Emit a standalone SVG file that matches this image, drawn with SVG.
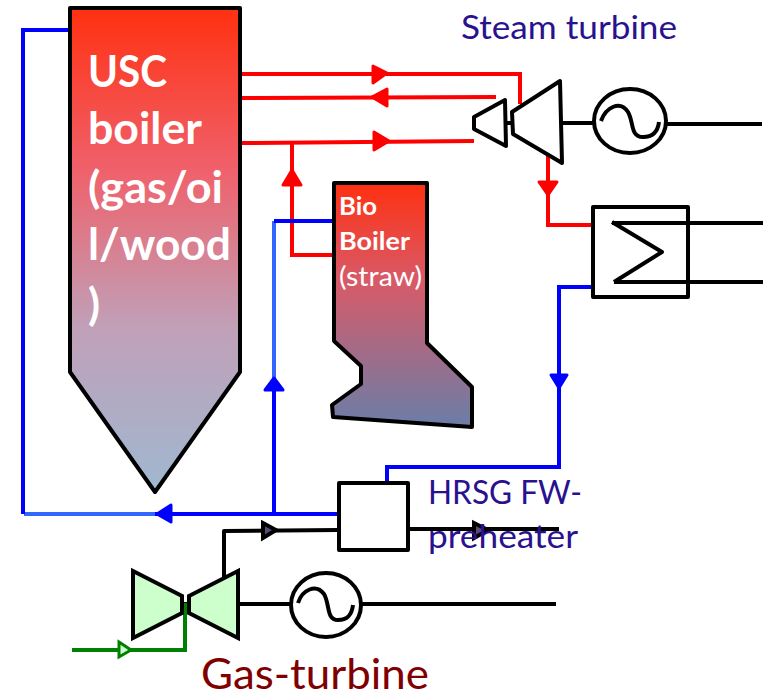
<svg xmlns="http://www.w3.org/2000/svg" width="770" height="694" viewBox="0 0 770 694">
<style>
.k{fill:none;stroke:#000;stroke-width:4;stroke-linejoin:round}
.kw{fill:#fff;stroke:#000;stroke-width:4;stroke-linejoin:round}
.g{fill:#ccffcc;stroke:#000;stroke-width:4;stroke-linejoin:miter}
.r{fill:none;stroke:#ff0000;stroke-width:4}
.b{fill:none;stroke:#0000ff;stroke-width:4}
.lb{fill:none;stroke:#3366ff;stroke-width:4}
.gr{fill:none;stroke:#008000;stroke-width:4}
.ra{fill:#ff0000;stroke:#ff0000;stroke-width:3;stroke-linejoin:round}
.ba{fill:#0000ff;stroke:#0000ff;stroke-width:3;stroke-linejoin:round}
.ka{fill:#5a4a7a;stroke:#000;stroke-width:4;stroke-linejoin:miter}
text{font-family:"Lato","Liberation Sans",sans-serif}
.w{fill:#fff;font-weight:700}
.n{fill:#2a1190;font-size:33px}
</style>
<defs>
<linearGradient id="g1" x1="0" y1="0" x2="0" y2="1"><stop offset="0" stop-color="#ff3010"/><stop offset="0.33" stop-color="#f0606a"/><stop offset="0.66" stop-color="#c0a0b8"/><stop offset="1" stop-color="#9fb8d0"/></linearGradient>
<linearGradient id="g2" x1="0" y1="0" x2="0" y2="1"><stop offset="0" stop-color="#ff3010"/><stop offset="0.4" stop-color="#d85a68"/><stop offset="1" stop-color="#6a7ea8"/></linearGradient>
</defs>
<g id="connectors">
<path class="r" d="M242 74H520V104"/>
<path class="r" d="M242 98L496 97"/>
<path class="r" d="M242 143L474 141"/>
<path class="r" d="M292 143V255H335"/>
<path class="r" d="M548 155V225H593"/>
<polygon class="ra" points="373,66 387,73 373,83"/>
<polygon class="ra" points="387,89 372,97 387,106"/>
<polygon class="ra" points="374,132 389,141 374,150"/>
<polygon class="ra" points="283,185 301,185 292,170"/>
<polygon class="ra" points="539,182 557,182 548,195"/>
<path class="b" d="M593 287H559V467H387V483"/>
<polygon class="ba" points="551,375 567,375 559,388"/>
<path class="b" d="M339 514H155"/>
<path class="lb" d="M155 514H24"/>
<path class="b" d="M23 514V30H70"/>
<path class="b" d="M274 514V380"/>
<path class="lb" d="M274 380V221"/>
<path class="b" d="M274 221H335"/>
<polygon class="ba" points="157,514 171,505 171,522"/>
<polygon class="ba" points="265,390 283,390 274,378"/>
<path class="k" d="M408 529H559"/>
<polygon class="ka" points="474,523 488,530 474,538"/>
<path class="k" d="M224 577V531L338 530"/>
<polygon class="ka" points="263,523 276,530 263,538"/>
<path class="k" d="M505 123H512M562 123H593M666 124H762"/>
<path class="k" d="M612 223H763M614 282H763"/>
<path class="k" d="M238 604H292M360 604H556"/>
<path class="k" d="M182 604H189"/>
<path class="gr" d="M72 650H185V603"/>
<polygon points="119,642 131,650 119,657" style="fill:#ccffcc;stroke:#008000;stroke-width:3"/>
</g>
<g id="usc-boiler">
<polygon points="70,8 240,8 240,372 155,492 70,372" fill="url(#g1)" stroke="#000" stroke-width="4" stroke-linejoin="round"/>
<g class="w" font-size="44">
<text x="88" y="87" textLength="79" lengthAdjust="spacingAndGlyphs">USC</text>
<text x="88" y="144" textLength="114" lengthAdjust="spacingAndGlyphs">boiler</text>
<text x="88" y="203" textLength="135" lengthAdjust="spacingAndGlyphs">(gas/oi</text>
<text x="88" y="260" textLength="143" lengthAdjust="spacingAndGlyphs">l/wood</text>
<text x="88" y="320">)</text>
</g>
</g>
<g id="bio-boiler">
<polygon points="334,183 427,183 427,343 472,387 472,427 333,417 332,405 361,384 361,366 334,341" fill="url(#g2)" stroke="#000" stroke-width="4" stroke-linejoin="round"/>
<text class="w" x="339" y="215" font-size="25" textLength="38" lengthAdjust="spacingAndGlyphs">Bio</text>
<text class="w" x="339" y="250" font-size="25" textLength="71" lengthAdjust="spacingAndGlyphs">Boiler</text>
<text x="339" y="286" font-size="26" fill="#fff" textLength="83" lengthAdjust="spacingAndGlyphs">(straw)</text>
</g>
<g id="steam-turbine">
<polygon class="kw" points="474,117 505,100 506,146 474,129"/>
<polygon class="kw" points="512,112 560,81 562,163 513,134"/>
<text x="461" y="39" font-size="33" fill="#2a1190" textLength="216" lengthAdjust="spacingAndGlyphs">Steam turbine</text>
</g>
<g id="generator-1">
<ellipse class="k" cx="630" cy="121" rx="36" ry="32"/>
<path class="k" d="M601 121C606 107 620 100 628 112C634 122 630 137 643 137C654 137 658 130 659 122"/>
</g>
<g id="condenser">
<rect class="k" x="593" y="207" width="95" height="90"/>
<path class="k" d="M612 222L662 252L614 282"/>
</g>
<g id="hrsg">
<rect class="kw" x="339" y="483" width="69" height="67"/>
<text class="n" x="428" y="504" textLength="154" lengthAdjust="spacingAndGlyphs">HRSG FW-</text>
<text class="n" x="428" y="548" textLength="150" lengthAdjust="spacingAndGlyphs">preheater</text>
</g>
<g id="gas-turbine">
<polygon class="g" points="133,571 182,596 182,613 133,638"/>
<polygon class="g" points="189,596 238,571 238,638 189,613"/>
<text x="201" y="689" font-size="43" fill="#7f0000" textLength="228" lengthAdjust="spacingAndGlyphs">Gas-turbine</text>
</g>
<g id="generator-2">
<ellipse class="k" cx="326" cy="605" rx="35" ry="32"/>
<path class="k" d="M298 603C302 590 316 583 324 594C330 604 326 620 338 620C349 620 352 613 353 605"/>
</g>
</svg>
